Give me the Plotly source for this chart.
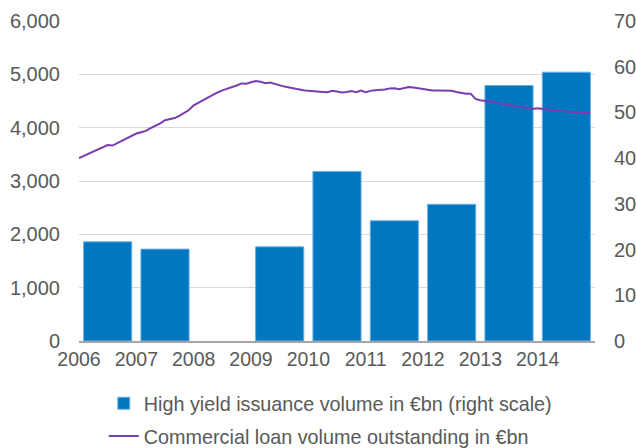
import plotly.graph_objects as go

# ---- data ----
years = [2006, 2007, 2008, 2009, 2010, 2011, 2012, 2013, 2014]
hy_issuance = [21.7, 20.1, None, 20.6, 37.1, 26.3, 29.9, 55.9, 58.8]  # right scale, EUR bn

loan_volume = [
    3430, 3470, 3510, 3550, 3580, 3630, 3675, 3665, 3710, 3760, 3800, 3850,  # 2006
    3890, 3915, 3940, 3990, 4030, 4080, 4140, 4160, 4180, 4220, 4270, 4330,  # 2007
    4420, 4470, 4510, 4570, 4610, 4660, 4700, 4730, 4750, 4790, 4830, 4825,  # 2008
    4850, 4875, 4860, 4835, 4845, 4820, 4790, 4770, 4755, 4735, 4715, 4700,  # 2009
    4690, 4680, 4675, 4670, 4665, 4690, 4680, 4660, 4670, 4685, 4665, 4695,  # 2010
    4665, 4690, 4700, 4705, 4715, 4735, 4740, 4720, 4745, 4760, 4755, 4740,  # 2011
    4720, 4705, 4695, 4695, 4695, 4695, 4690, 4670, 4650, 4635, 4635, 4540,  # 2012
    4515, 4505, 4490, 4475, 4455, 4440, 4420, 4400, 4390, 4375, 4360, 4350,  # 2013
    4365, 4350, 4340, 4330, 4320, 4310, 4300, 4290, 4280, 4275, 4275, 4275,  # 2014
]
loan_x = [2006 + i / 12 for i in range(len(loan_volume))]

left_ticks = [0, 1000, 2000, 3000, 4000, 5000, 6000]
left_labels = ["0", "1,000", "2,000", "3,000", "4,000", "5,000", "6,000"]
right_ticks = [0, 10, 20, 30, 40, 50, 60, 70]
x_tick_labels = [str(y) for y in years]

bar_name = "High yield issuance volume in €bn (right scale)"
line_name = "Commercial loan volume outstanding in €bn"

# ---- figure ----
FONT = "Liberation Sans, Arial, sans-serif"
GREY = "#595959"
LEFT_MAX = 6000
RIGHT_MAX = 70

fig = go.Figure()
# bars on the primary (right-side) axis so the line overlays them
fig.add_trace(go.Bar(
    x=[y + 0.5 for y in years], y=hy_issuance, width=0.84,
    name=bar_name, yaxis="y", legendgroup="a",
    marker=dict(color="#0077C0", line=dict(color="#6FB0E0", width=1)),
))
fig.add_trace(go.Scatter(
    x=loan_x, y=loan_volume, mode="lines", name=line_name, legendgroup="b",
    yaxis="y2", line=dict(color="#7A3DB0", width=2),
))

fig.update_layout(
    width=636, height=448,
    margin=dict(l=79, r=41, t=21, b=107, autoexpand=False),
    paper_bgcolor="white", plot_bgcolor="white",
    font=dict(family=FONT, size=20, color=GREY),
    showlegend=True,
    legend=dict(
        x=0.048, y=-0.134, xanchor="left", yanchor="top",
        orientation="v", traceorder="grouped", tracegroupgap=4,
        font=dict(family=FONT, size=19.8, color=GREY),
        bgcolor="rgba(0,0,0,0)",
    ),
    xaxis=dict(
        type="linear", range=[2006, 2015], tickvals=years, ticktext=x_tick_labels,
        tickangle=0, automargin=False, tickfont=dict(size=19.5),
        showgrid=False, zeroline=False, showline=True,
        linecolor="#A6A6A6", linewidth=1.5, ticks="",
    ),
    # right scale (bars); gridlines placed to match the left scale's ticks
    yaxis=dict(
        type="linear", range=[0, RIGHT_MAX], tickvals=right_ticks, side="right",
        automargin=False, showgrid=False,
        minor=dict(tick0=0, dtick=RIGHT_MAX / (len(left_ticks) - 1), showgrid=True,
                   gridcolor="#D9D9D9", gridwidth=1, ticks=""),
        zeroline=False, showline=False, ticks="outside", ticklen=14,
        tickcolor="rgba(0,0,0,0)",
    ),
    # left scale (line)
    yaxis2=dict(
        type="linear", range=[0, LEFT_MAX], tickvals=left_ticks, ticktext=left_labels,
        overlaying="y", side="left", automargin=False,
        showgrid=False, zeroline=False, showline=False, ticks="outside", ticklen=14,
        tickcolor="rgba(0,0,0,0)",
    ),
)

fig.write_html("out.html")
